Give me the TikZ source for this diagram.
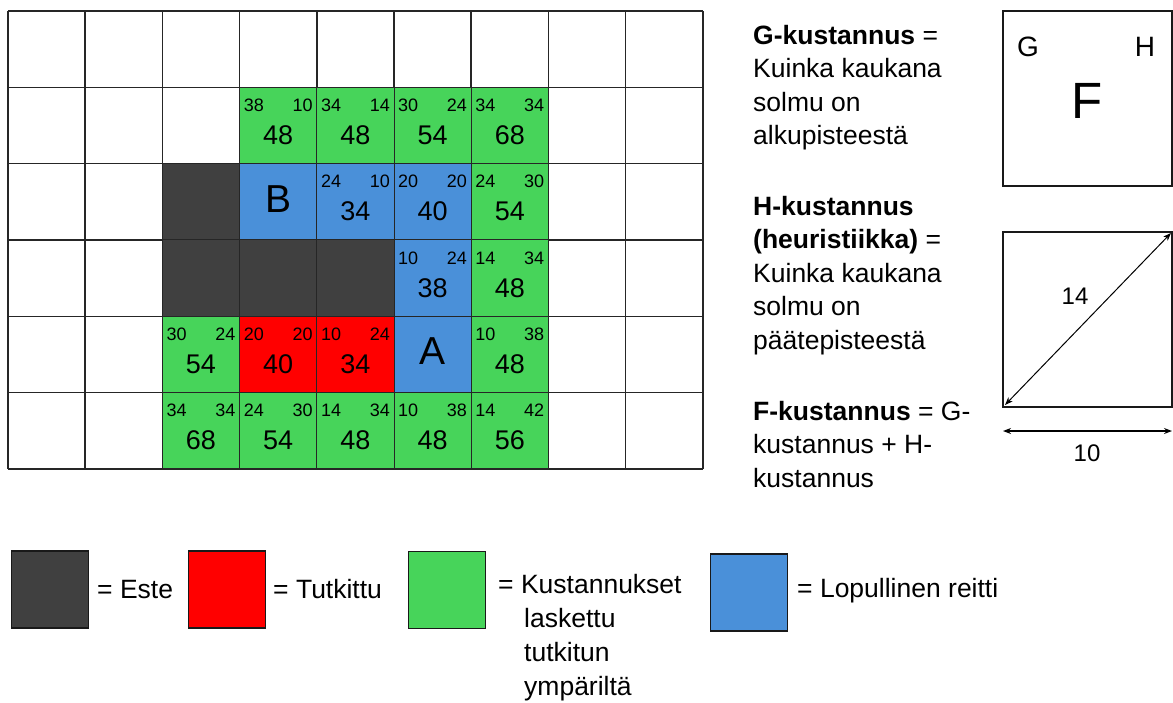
\documentclass[tikz,border=0pt]{standalone}
\usepackage{fontspec}
\setmainfont{Liberation Sans}
\usetikzlibrary{calc,arrows.meta}
\definecolor{cgreen}{HTML}{47D45A}
\definecolor{cblue}{HTML}{4A90D9}
\definecolor{cdark}{HTML}{404040}
\definecolor{cred}{HTML}{FF0000}
\newcommand\fs[1]{\fontsize{#1}{#1}\selectfont}
\newcommand\cellpos[2]{({8+77.2*(#1+0.5)},{11+76.33*(#2+0.5)})}
\newcommand\numcell[6]{%
  \node[cellbox, fill=#3] (c#1#2) at \cellpos{#1}{#2} {};
  \node[smallnum, anchor=west] (c#1#2g) at ($(c#1#2.north west)+(4,18)$) {#4};
  \node[smallnum, anchor=east] (c#1#2h) at ($(c#1#2.north east)+(-4,18)$) {#5};
  \node[bignum] (c#1#2f) at ($(c#1#2.north)+(0,48)$) {#6};
}
\newcommand\plaincell[3]{\node[cellbox, fill=#3] (c#1#2) at \cellpos{#1}{#2} {};}
\begin{document}
\begin{tikzpicture}[x=1pt,y=-1pt,
  gridline/.style={line width=1.5pt, draw=black!85},
  cellbox/.style={draw=black!85, line width=1pt, minimum width=77.2pt, minimum height=76.33pt, inner sep=0pt, outer sep=0pt},
  smallnum/.style={font=\fs{18}, inner sep=0pt},
  bignum/.style={font=\fs{27}, inner sep=0pt},
  letter/.style={font=\fs{39}, inner sep=0pt},
  txt/.style={font=\fs{26.5}, inner sep=0pt, anchor=base west},
  legbox/.style={draw=black!90, line width=1.2pt, minimum width=77pt, minimum height=77pt, inner sep=0pt, outer sep=0pt},
  infobox/.style={draw=black!90, line width=1.2pt, minimum width=169pt, minimum height=175pt, inner sep=0pt, outer sep=0pt},
  dimarrow/.style={{Stealth[length=8pt,width=6pt]}-{Stealth[length=8pt,width=6pt]}}
]
\useasboundingbox[fill=white] (0,0) rectangle (1173,702);

% grid
\foreach \i in {0,...,9} \draw[gridline] ({8+77.2*\i},11) -- ({8+77.2*\i},469);
\foreach \j in {0,...,6} \draw[gridline] (8,{11+76.33*\j}) -- (703,{11+76.33*\j});

% row 1
\numcell{3}{1}{cgreen}{38}{10}{48}
\numcell{4}{1}{cgreen}{34}{14}{48}
\numcell{5}{1}{cgreen}{30}{24}{54}
\numcell{6}{1}{cgreen}{34}{34}{68}
% row 2
\plaincell{2}{2}{cdark}
\plaincell{3}{2}{cblue}
\node[letter] (lB) at ($(c32.center)+(0,-3)$) {B};
\numcell{4}{2}{cblue}{24}{10}{34}
\numcell{5}{2}{cblue}{20}{20}{40}
\numcell{6}{2}{cgreen}{24}{30}{54}
% row 3
\plaincell{2}{3}{cdark}
\plaincell{3}{3}{cdark}
\plaincell{4}{3}{cdark}
\numcell{5}{3}{cblue}{10}{24}{38}
\numcell{6}{3}{cgreen}{14}{34}{48}
% row 4
\numcell{2}{4}{cgreen}{30}{24}{54}
\numcell{3}{4}{cred}{20}{20}{40}
\numcell{4}{4}{cred}{10}{24}{34}
\plaincell{5}{4}{cblue}
\node[letter] (lA) at ($(c54.center)+(0,-3)$) {A};
\numcell{6}{4}{cgreen}{10}{38}{48}
% row 5
\numcell{2}{5}{cgreen}{34}{34}{68}
\numcell{3}{5}{cgreen}{24}{30}{54}
\numcell{4}{5}{cgreen}{14}{34}{48}
\numcell{5}{5}{cgreen}{10}{38}{48}
\numcell{6}{5}{cgreen}{14}{42}{56}

% explanation text
\node[txt] (t1) at (753,44) {\textbf{G-kustannus} =};
\node[txt] (t2) at (753,77.5) {Kuinka kaukana};
\node[txt] (t3) at (753,111) {solmu on};
\node[txt] (t4) at (753,144.5) {alkupisteestä};
\node[txt] (t5) at (753,215) {\textbf{H-kustannus}};
\node[txt] (t6) at (753,248.5) {\textbf{(heuristiikka)} =};
\node[txt] (t7) at (753,282) {Kuinka kaukana};
\node[txt] (t8) at (753,315.5) {solmu on};
\node[txt] (t9) at (753,349) {päätepisteestä};
\node[txt] (t10) at (753,420) {\textbf{F-kustannus} = G-};
\node[txt] (t11) at (753,453.5) {kustannus + H-};
\node[txt] (t12) at (753,487) {kustannus};

% info boxes
\node[infobox] (box1) at (1087.5,98.5) {};
\node[font=\fs{28}, inner sep=0pt] (bG) at (1028,47) {G};
\node[font=\fs{28}, inner sep=0pt] (bH) at (1145,47) {H};
\node[font=\fs{51}, inner sep=0pt] (bF) at (1087,101) {F};

\node[infobox] (box2) at (1087.5,319.5) {};
\coordinate (dA) at ($(box2.south west)+(2,-2)$);
\coordinate (dB) at ($(box2.north east)+(-1,1)$);
\draw[dimarrow, line width=1pt] (dA) -- (dB);
\node[font=\fs{24}, inner sep=0pt] (n14) at (1075,296) {14};
\coordinate (hA) at (1003,431);
\coordinate (hB) at (1172,431);
\draw[dimarrow, line width=1.5pt] (hA) -- (hB);
\node[font=\fs{24}, inner sep=0pt] (n10) at (1087,453) {10};

% legend
\node[legbox, fill=cdark] (L1) at (50,589.5) {};
\node[txt] (L1t) at (97,598) {= Este};
\node[legbox, fill=cred] (L2) at (227,589.5) {};
\node[txt] (L2t) at (273,598) {= Tutkittu};
\node[legbox, fill=cgreen] (L3) at (447,590) {};
\node[txt] (L3a) at (498,593) {= Kustannukset};
\node[txt] (L3b) at (524,627) {laskettu};
\node[txt] (L3c) at (524,661) {tutkitun};
\node[txt] (L3d) at (524,695) {ympäriltä};
\node[legbox, fill=cblue] (L4) at (749,592.5) {};
\node[txt] (L4t) at (797,597) {= Lopullinen reitti};
\end{tikzpicture}
\end{document}
